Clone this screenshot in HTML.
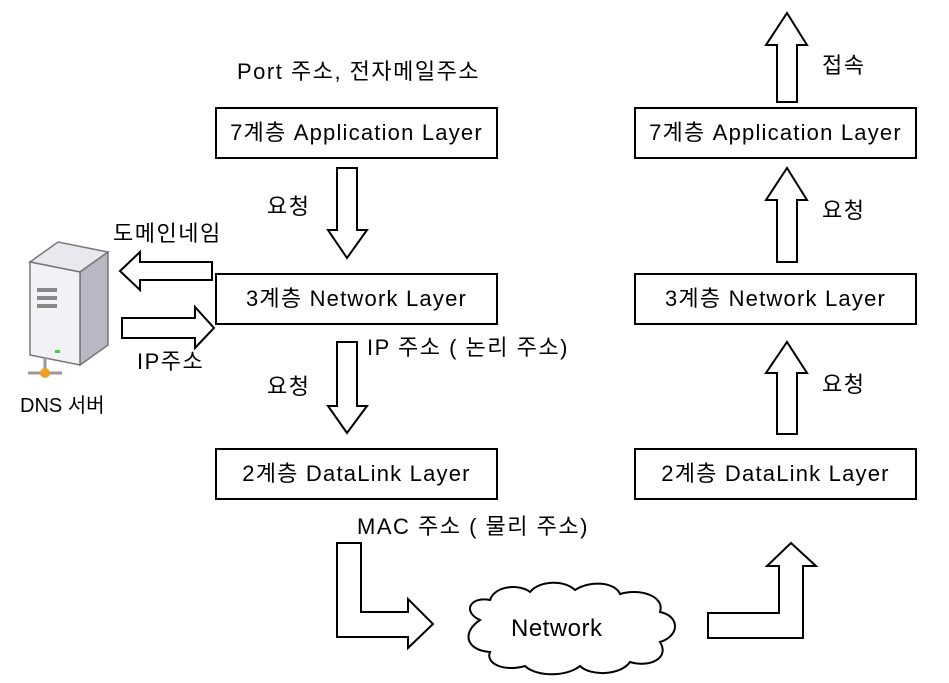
<!DOCTYPE html>
<html><head><meta charset="utf-8"><style>
body{margin:0;background:#fff;width:949px;height:683px;overflow:hidden;position:relative;font-family:"Liberation Sans","Noto Sans CJK KR",sans-serif;color:#000}
.b{position:absolute;width:279px;height:48px;border:2px solid #000;box-sizing:content-box;text-align:center;line-height:48px;font-size:22px;white-space:nowrap;letter-spacing:1.2px}
.t{position:absolute;font-size:22px;white-space:nowrap;line-height:1;letter-spacing:1.5px}
svg{position:absolute;left:0;top:0}
</style></head><body>
<svg width="949" height="683">
<g fill="#fff" stroke="#000" stroke-width="2">
<polygon points="337,168 357,168 357,230 367,230 347,258 328,230 337,230"/>
<polygon points="337,342 357,342 357,406 367,406 347,433 328,406 337,406"/>
<polygon points="777,102 797,102 797,45 807,45 787,13 766,45 777,45"/>
<polygon points="777,262 797,262 797,200 807,200 787,168 766,200 777,200"/>
<polygon points="777,434 797,434 797,373 807,373 787,342 766,373 777,373"/>
<polygon points="212,262 140,262 140,252 120,271 140,290 140,280 212,280"/>
<polygon points="122,318 195,318 195,307 214,328 195,348 195,338 122,338"/>
<polygon points="337,543 361,543 361,612 408,612 408,599 433,624 408,648 408,637 337,637"/>
<polygon points="708,613 779,613 779,566 767,566 791,543 816,566 803,566 803,638 708,638"/>
<path d="M480,620 C462,612 470,596 490,600 C495,585 520,584 530,592 C540,580 565,580 575,590 C590,580 615,582 620,594 C640,588 665,596 660,612 C680,616 680,636 660,642 C670,658 650,668 630,662 C620,676 590,676 580,666 C565,678 535,676 525,666 C505,672 485,664 490,652 C465,650 462,632 480,620 Z"/>
</g>
<g>
<polygon points="30,262 58,242 108,252 80,272" fill="#e8e8ee" stroke="#777" stroke-width="1.5"/>
<polygon points="80,272 108,252 108,345 80,365" fill="#b8b8c4" stroke="#777" stroke-width="1.5"/>
<polygon points="30,262 80,272 80,365 30,355" fill="#f2f2f6" stroke="#777" stroke-width="1.5"/>
<rect x="37" y="288" width="20" height="4" fill="#888"/>
<rect x="37" y="296" width="20" height="4" fill="#888"/>
<rect x="37" y="304" width="20" height="4" fill="#888"/>
<rect x="55" y="350" width="5" height="3" fill="#4c4"/>
<line x1="45" y1="358" x2="45" y2="373" stroke="#999" stroke-width="3"/>
<line x1="28" y1="373" x2="62" y2="373" stroke="#999" stroke-width="3"/>
<circle cx="45" cy="373" r="5" fill="#f0a020"/>
</g>
</svg>
<div class="b" style="left:215px;top:107px">7계층 Application Layer</div>
<div class="b" style="left:215px;top:273px">3계층 Network Layer</div>
<div class="b" style="left:215px;top:448px">2계층 DataLink Layer</div>
<div class="b" style="left:634px;top:107px">7계층 Application Layer</div>
<div class="b" style="left:634px;top:273px">3계층 Network Layer</div>
<div class="b" style="left:634px;top:448px">2계층 DataLink Layer</div>
<div class="t" style="left:237px;top:61px">Port 주소, 전자메일주소</div>
<div class="t" style="left:267px;top:196px">요청</div>
<div class="t" style="left:113px;top:223px">도메인네임</div>
<div class="t" style="left:137px;top:351px">IP주소</div>
<div class="t" style="left:20px;top:396px;font-size:20px;letter-spacing:0">DNS 서버</div>
<div class="t" style="left:367px;top:337px">IP 주소 ( 논리 주소)</div>
<div class="t" style="left:267px;top:376px">요청</div>
<div class="t" style="left:357px;top:516px">MAC 주소 ( 물리 주소)</div>
<div class="t" style="left:511px;top:617px;font-size:24px;letter-spacing:0.5px">Network</div>
<div class="t" style="left:822px;top:55px">접속</div>
<div class="t" style="left:822px;top:200px">요청</div>
<div class="t" style="left:822px;top:374px">요청</div>
</body></html>
